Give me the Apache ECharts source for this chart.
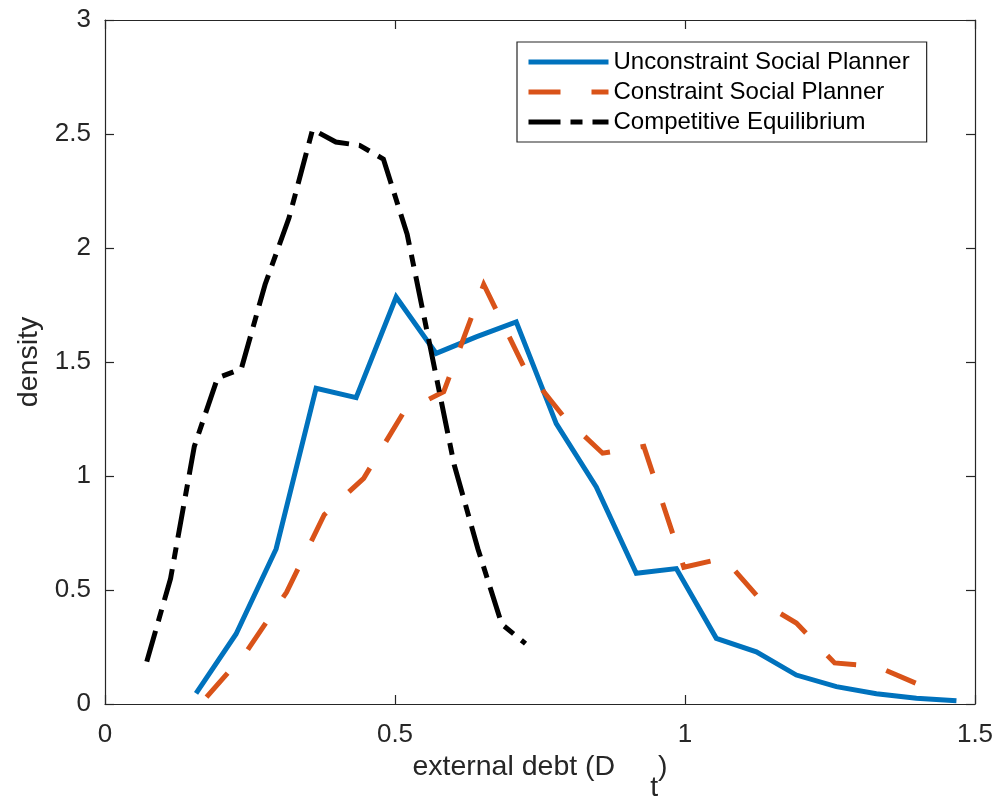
<!DOCTYPE html>
<html>
<head>
<meta charset="utf-8">
<script src="https://cdn.jsdelivr.net/npm/echarts@6/dist/echarts.min.js"></script>
<style>html,body{margin:0;padding:0;background:#fff}#c{width:997px;height:800px}</style>
</head>
<body>
<div id="c"></div>
<script>
const seriesNames = ['Unconstraint Social Planner', 'Constraint Social Planner', 'Competitive Equilibrium'];

const unconstrainedX = [0.157, 0.226, 0.295, 0.364, 0.433, 0.502, 0.571, 0.640, 0.709, 0.778, 0.847, 0.916, 0.985, 1.054, 1.123, 1.192, 1.261, 1.330, 1.399, 1.468];
const unconstrainedY = [0.047, 0.307, 0.680, 1.385, 1.344, 1.785, 1.538, 1.610, 1.676, 1.230, 0.952, 0.573, 0.594, 0.288, 0.229, 0.127, 0.076, 0.045, 0.025, 0.014];

const constrainedX = [0.175, 0.244, 0.313, 0.378, 0.446, 0.515, 0.584, 0.653, 0.722, 0.791, 0.858, 0.929, 0.998, 1.067, 1.136, 1.192, 1.258, 1.330, 1.399, 1.414];
const constrainedY = [0.030, 0.230, 0.490, 0.830, 0.990, 1.280, 1.370, 1.840, 1.480, 1.260, 1.100, 1.130, 0.600, 0.640, 0.440, 0.355, 0.180, 0.165, 0.090, 0.110];

const competitiveX = [0.072, 0.113, 0.154, 0.194, 0.235, 0.276, 0.317, 0.358, 0.398, 0.439, 0.480, 0.521, 0.562, 0.602, 0.643, 0.684, 0.725];
const competitiveY = [0.186, 0.550, 1.130, 1.430, 1.470, 1.840, 2.130, 2.520, 2.465, 2.450, 2.390, 2.060, 1.550, 1.050, 0.680, 0.350, 0.265];

const xTicks = [0, 0.5, 1, 1.5];
const yTicks = [0, 0.5, 1, 1.5, 2, 2.5, 3];

const zip = (xs, ys) => xs.map((x, i) => [x, ys[i]]);

const FONT = '"Liberation Sans", Arial, Helvetica, sans-serif';
const AX = '#262626';

const chart = echarts.init(document.getElementById('c'), null, {renderer: 'canvas'});

const axisCommon = {
  axisLine: {show: true, onZero: false, lineStyle: {color: AX, width: 1.2}},
  axisTick: {show: true, inside: true, length: 9, lineStyle: {color: AX, width: 1.2}},
  splitLine: {show: false}
};

const option = {
  backgroundColor: '#ffffff',
  animation: false,
  grid: {left: 105, right: 22, top: 20, bottom: 96, containLabel: false, outerBoundsMode: 'none'},
  xAxis: [
    Object.assign({}, axisCommon, {
      type: 'value', position: 'bottom', min: xTicks[0], max: xTicks[xTicks.length - 1], interval: 0.5,
      name: '{a|external debt (D}{gap|}{sub|t}{a|)}',
      nameLocation: 'middle', nameGap: 45,
      nameTextStyle: {
        rich: {
          a: {fontFamily: FONT, fontSize: 28.5, color: AX, verticalAlign: 'top', padding: [0, 0, 0, 0]},
          gap: {width: 35},
          sub: {fontFamily: FONT, fontSize: 28.5, color: AX, verticalAlign: 'top', padding: [21, 0, 0, 0]}
        }
      },
      axisLabel: {show: true, margin: 18, fontFamily: FONT, fontSize: 26, color: AX}
    }),
    Object.assign({}, axisCommon, {
      type: 'value', position: 'top', min: xTicks[0], max: xTicks[xTicks.length - 1], interval: 0.5,
      axisLabel: {show: false}
    })
  ],
  yAxis: [
    Object.assign({}, axisCommon, {
      type: 'value', position: 'left', min: yTicks[0], max: yTicks[yTicks.length - 1], interval: 0.5,
      name: 'density', nameLocation: 'middle', nameGap: 60,
      nameTextStyle: {fontFamily: FONT, fontSize: 28.5, color: AX},
      axisLabel: {show: true, margin: 14, fontFamily: FONT, fontSize: 26, color: AX}
    }),
    Object.assign({}, axisCommon, {
      type: 'value', position: 'right', min: yTicks[0], max: yTicks[yTicks.length - 1], interval: 0.5,
      axisLabel: {show: false}
    })
  ],
  legend: {
    show: true,
    orient: 'vertical',
    left: 517, top: 42,
    padding: [8, 17, 8, 9],
    itemWidth: 80, itemHeight: 20, itemGap: 6,
    backgroundColor: '#ffffff',
    borderColor: AX, borderWidth: 1.2, borderRadius: 0,
    data: seriesNames,
    textStyle: {fontFamily: FONT, fontSize: 24, color: '#000'},
    lineStyle: {width: 5},
    itemStyle: {opacity: 0, borderWidth: 0, color: 'rgba(0,0,0,0)'}
  },
  series: [
    {
      name: seriesNames[0], type: 'line', xAxisIndex: 0, yAxisIndex: 0,
      data: zip(unconstrainedX, unconstrainedY),
      symbol: 'none', showSymbol: false,
      lineStyle: {color: '#0072BD', width: 5, type: 'solid', join: 'miter', cap: 'butt'},
      itemStyle: {color: '#0072BD'}
    },
    {
      name: seriesNames[1], type: 'line', xAxisIndex: 0, yAxisIndex: 0,
      data: zip(constrainedX, constrainedY),
      symbol: 'none', showSymbol: false,
      lineStyle: {color: '#D95319', width: 5, type: [32, 31], join: 'miter', cap: 'butt'},
      itemStyle: {color: '#D95319'}
    },
    {
      name: seriesNames[2], type: 'line', xAxisIndex: 0, yAxisIndex: 0,
      data: zip(competitiveX, competitiveY),
      symbol: 'none', showSymbol: false,
      lineStyle: {color: '#000000', width: 5, type: [32, 10, 12, 10], join: 'miter', cap: 'butt'},
      itemStyle: {color: '#000000'}
    }
  ]
};

chart.setOption(option);
</script>
</body>
</html>
